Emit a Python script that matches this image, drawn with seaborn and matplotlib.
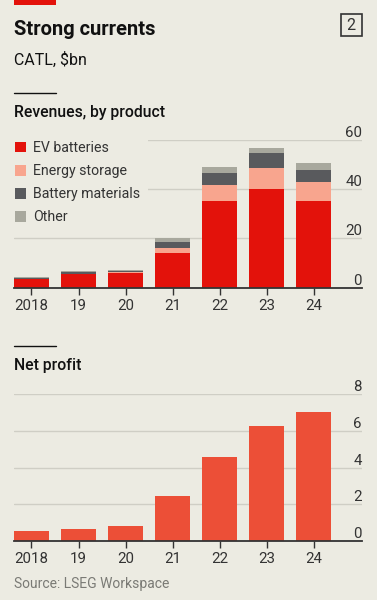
import pandas as pd
import matplotlib.pyplot as plt
import seaborn as sns
from matplotlib.patches import Patch, Rectangle

# Datos (CATL, $bn)
years = ['2018', '19', '20', '21', '22', '23', '24']
ev_batteries = [3.5, 5.5, 5.9, 14.0, 35.3, 40.2, 35.3]
energy_storage = [0.05, 0.1, 0.3, 2.2, 6.6, 8.5, 7.8]
battery_materials = [0.4, 0.7, 0.6, 2.3, 4.5, 6.0, 4.7]
other = [0.3, 0.4, 0.4, 1.7, 2.6, 2.0, 2.7]
net_profit = [0.53, 0.65, 0.8, 2.47, 4.58, 6.25, 7.05]

segments = ['EV batteries', 'Energy storage', 'Battery materials', 'Other']
seg_colors = ['#E3120B', '#F8A58E', '#595A5D', '#A8A89D']
profit_color = '#EC4F37'

bg = '#ECEBE2'
dark = '#333333'
grid_col = '#CFCEC5'

sns.set_style('white')
plt.rcParams['font.family'] = ['Roboto', 'DejaVu Sans']

W, H = 377, 600

def fx(px):
    return px / W

def fy(py):
    return 1 - py / H

# tabla para barras apiladas: cumulativos
rev = pd.DataFrame({'year': years, 'EV batteries': ev_batteries,
                    'Energy storage': energy_storage,
                    'Battery materials': battery_materials, 'Other': other})
cum = rev[segments].cumsum(axis=1)
cum['year'] = years
profit = pd.DataFrame({'year': years, 'profit': net_profit})

fig = plt.figure(figsize=(W / 100, H / 100), dpi=100)
fig.patch.set_facecolor(bg)

# encabezado
fig.patches.append(Rectangle((fx(14), fy(5)), fx(42), 5 / H, transform=fig.transFigure,
                             facecolor='#E3120B', edgecolor='none'))
fig.text(fx(14), fy(35.3), 'Strong currents', fontsize=14.5, fontweight='bold',
         color='#111111', va='baseline')
fig.patches.append(Rectangle((fx(340.5), fy(36)), fx(21.5), 22.5 / H, transform=fig.transFigure,
                             facecolor='none', edgecolor=dark, lw=1.2))
fig.text(fx(351.2), fy(30.3), '2', fontsize=11.5, color=dark, ha='center', va='baseline')
fig.text(fx(14), fy(65), 'CATL, $bn', fontsize=11.5, color='#111111', va='baseline')

for ly in (92.5, 345.7):
    fig.lines.append(plt.Line2D([fx(14), fx(56)], [fy(ly), fy(ly)], transform=fig.transFigure,
                                color='#111111', lw=1))
fig.text(fx(14), fy(117.3), 'Revenues, by product', fontsize=11.3, fontweight='medium',
         color='#111111', va='baseline')
fig.text(fx(14), fy(370), 'Net profit', fontsize=11.3, fontweight='medium',
         color='#111111', va='baseline')
fig.text(fx(14), fy(588.3), 'Source: LSEG Workspace', fontsize=10, color='#7A7A75',
         va='baseline')

x_left, x_right = 14, 362
xlim = (-0.372, 7.03)
bar_w = 0.745


def style_axes(ax, ticks):
    ax.set_facecolor(bg)
    ax.set_xlim(*xlim)
    ax.set_ylim(ticks[0], ticks[-1])
    ax.set_axisbelow(True)
    ax.yaxis.grid(True, color=grid_col, lw=1)
    ax.xaxis.grid(False)
    for s in ['top', 'left', 'right']:
        ax.spines[s].set_visible(False)
    ax.spines['bottom'].set_color(dark)
    ax.spines['bottom'].set_linewidth(1.3)
    ax.spines['bottom'].set_zorder(4)
    ax.set_yticks(ticks)
    ax.set_yticklabels([str(t) for t in ticks])
    ax.yaxis.tick_right()
    ax.tick_params(axis='y', length=0, pad=0, labelsize=10.8, labelcolor=dark)
    plt.setp(ax.get_yticklabels(), ha='right', va='bottom')
    ax.tick_params(axis='x', bottom=True, length=5, width=1, color=dark, pad=3,
                   labelsize=10.8, labelcolor=dark)
    ax.set_xlabel('')
    ax.set_ylabel('')


# Gráfico superior: ingresos por producto (apilado)
ax1 = fig.add_axes([fx(x_left), fy(287.7), fx(x_right - x_left), (287.7 - 140) / H])
for seg, col in reversed(list(zip(segments, seg_colors))):
    sns.barplot(data=cum, x='year', y=seg, color=col, saturation=1, width=bar_w,
                errorbar=None, ax=ax1, linewidth=0)
style_axes(ax1, [0, 20, 40, 60])

handles = [Patch(facecolor=c, edgecolor='none', label=s) for s, c in zip(segments, seg_colors)]
leg = ax1.legend(handles=handles, loc='upper left', bbox_to_anchor=(-0.038, 1.09),
                 frameon=True, facecolor=bg, edgecolor='none', framealpha=1, fancybox=False,
                 borderpad=0.5, handlelength=0.8, handleheight=0.8, handletextpad=0.5,
                 labelspacing=0.65, fontsize=10.2)
for t in leg.get_texts():
    t.set_color(dark)
leg.set_zorder(5)

# Gráfico inferior: beneficio neto
ax2 = fig.add_axes([fx(x_left), fy(541), fx(x_right - x_left), (541 - 394.3) / H])
sns.barplot(data=profit, x='year', y='profit', color=profit_color, saturation=1,
            width=bar_w, errorbar=None, ax=ax2, linewidth=0)
style_axes(ax2, [0, 2, 4, 6, 8])

fig.savefig('out.png', dpi=100, facecolor=bg)
